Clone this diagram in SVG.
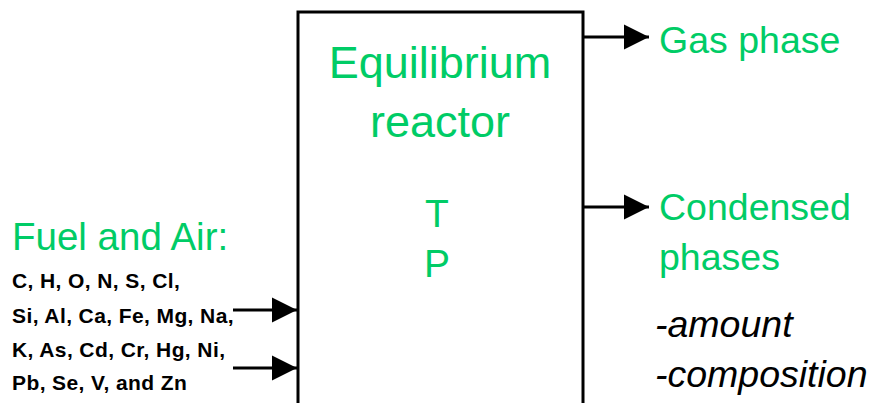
<svg xmlns="http://www.w3.org/2000/svg" width="873" height="403" viewBox="0 0 873 403">
<style>
.g{fill:#00CC66;font-family:"Liberation Sans",Arial,sans-serif}
.el{font-family:"Liberation Sans",Arial,sans-serif;font-weight:bold;font-size:21px;letter-spacing:0.4px;fill:#000}
.it{font-family:"Liberation Sans",Arial,sans-serif;font-style:italic;font-size:37.5px;fill:#000}
.ln{stroke:#000;stroke-width:3;fill:none}
</style>
<defs>
<marker id="ah" viewBox="0 0 10 10" refX="10" refY="5" markerWidth="8.5" markerHeight="8.5" markerUnits="strokeWidth" orient="auto">
<path d="M0,0 L10,5 L0,10 Z" fill="#000"/>
</marker>
</defs>
<rect width="873" height="403" fill="#fff"/>
<g id="reactor">
<rect x="298" y="12" width="285" height="400" class="ln"/>
<text class="g" x="440" y="78" font-size="45" text-anchor="middle">Equilibrium</text>
<text class="g" x="440" y="137" font-size="45" text-anchor="middle">reactor</text>
<text class="g" x="437" y="227" font-size="39" text-anchor="middle">T</text>
<text class="g" x="437" y="277" font-size="39" text-anchor="middle">P</text>
</g>
<g id="inputs">
<text class="g" x="12" y="250" font-size="38.5">Fuel and Air:</text>
<text class="el" x="12" y="288">C, H, O, N, S, Cl,</text>
<text class="el" x="12" y="323">Si, Al, Ca, Fe, Mg, Na,</text>
<text class="el" x="12" y="357">K, As, Cd, Cr, Hg, Ni,</text>
<text class="el" x="12" y="390">Pb, Se, V, and Zn</text>
</g>
<g id="gas">
<text class="g" x="659" y="53" font-size="37.5">Gas phase</text>
</g>
<g id="condensed">
<text class="g" x="659" y="220" font-size="37.5">Condensed</text>
<text class="g" x="659" y="270" font-size="37.5">phases</text>
<text class="it" x="655" y="337">-amount</text>
<text class="it" x="655" y="387">-composition</text>
</g>
<g id="connectors">
<line x1="233" y1="310" x2="297" y2="310" class="ln" marker-end="url(#ah)"/>
<line x1="233" y1="368" x2="297" y2="368" class="ln" marker-end="url(#ah)"/>
<line x1="583" y1="37" x2="649" y2="37" class="ln" marker-end="url(#ah)"/>
<line x1="583" y1="207" x2="649" y2="207" class="ln" marker-end="url(#ah)"/>
</g>
</svg>
